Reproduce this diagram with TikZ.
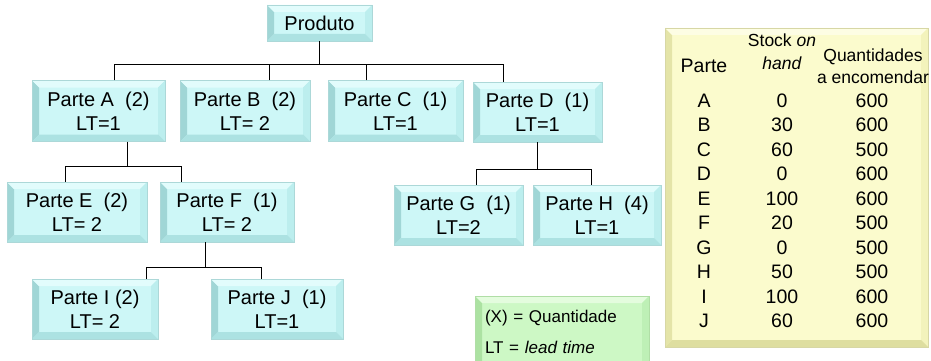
\documentclass[tikz,border=0pt]{standalone}
\usepackage{fontspec}
\setmainfont{Liberation Sans}
\usepackage{xcolor}
\definecolor{cyanface}{RGB}{205,247,247}
\definecolor{cyanleft}{RGB}{160,214,214}
\definecolor{cyantop}{RGB}{226,252,252}
\definecolor{cyanright}{RGB}{188,238,238}
\definecolor{cyanbottom}{RGB}{172,226,226}
\definecolor{cyanedge}{RGB}{172,216,216}
\definecolor{greenface}{RGB}{205,248,197}
\definecolor{greenleft}{RGB}{172,226,162}
\definecolor{greentop}{RGB}{228,252,222}
\definecolor{greenright}{RGB}{190,240,182}
\definecolor{greenbottom}{RGB}{178,230,170}
\definecolor{greenedge}{RGB}{176,222,166}
\definecolor{yellowface}{RGB}{251,251,205}
\definecolor{yellowleft}{RGB}{228,228,168}
\definecolor{yellowtop}{RGB}{253,253,228}
\definecolor{yellowright}{RGB}{243,243,188}
\definecolor{yellowbottom}{RGB}{222,222,160}
\definecolor{yellowedge}{RGB}{215,215,165}

\tikzset{
  bevel/.style={fill=#1face, draw=#1edge, line width=0.4pt,
    path picture={
      \path (path picture bounding box.south west) coordinate (pbl)
            (path picture bounding box.north west) coordinate (ptl)
            (path picture bounding box.north east) coordinate (ptr)
            (path picture bounding box.south east) coordinate (pbr);
      \fill[#1left] (pbl) -- (ptl) -- ([shift={(7pt,-7pt)}]ptl) -- ([shift={(7pt,7pt)}]pbl) -- cycle;
      \fill[#1top] (ptl) -- (ptr) -- ([shift={(-7pt,-7pt)}]ptr) -- ([shift={(7pt,-7pt)}]ptl) -- cycle;
      \fill[#1right] (ptr) -- (pbr) -- ([shift={(-7pt,7pt)}]pbr) -- ([shift={(-7pt,-7pt)}]ptr) -- cycle;
      \fill[#1bottom] (pbr) -- (pbl) -- ([shift={(7pt,7pt)}]pbl) -- ([shift={(-7pt,7pt)}]pbr) -- cycle;
    }},
  part/.style={bevel=cyan, inner sep=0pt, align=center,
    font=\fontsize{20}{24}\selectfont},
  link/.style={draw=black, line width=0.9pt},
  cell/.style={anchor=base, inner sep=0pt, font=\fontsize{19.5}{22}\selectfont},
  head/.style={anchor=base, inner sep=0pt, font=\fontsize{17.5}{20}\selectfont},
}

\begin{document}
\begin{tikzpicture}[x=1pt, y=-1pt]
    % Page frame: 931 x 361, y pointing down
    \useasboundingbox (0,0) rectangle (931,361);

    % Product structure tree
    \node[part, minimum width=105pt, minimum height=36pt] (produto) at (319.5,23) {Produto};

    \node[part, minimum width=133pt, minimum height=61pt] (partA) at (98.5,111) {Parte A~ (2)\\LT=1};
    \node[part, minimum width=130pt, minimum height=61pt] (partB) at (245,111) {Parte B~ (2)\\LT= 2};
    \node[part, minimum width=135pt, minimum height=61pt] (partC) at (395.5,111) {Parte C~ (1)\\LT=1};
    \node[part, minimum width=129pt, minimum height=60pt] (partD) at (537.5,112) {Parte D~ (1)\\LT=1};

    \node[part, minimum width=140pt, minimum height=60pt] (partE) at (77,212) {Parte E~ (2)\\LT= 2};
    \node[part, minimum width=134pt, minimum height=60pt] (partF) at (227,212) {Parte F~ (1)\\LT= 2};
    \node[part, minimum width=129pt, minimum height=60pt] (partG) at (458.5,215) {Parte G~ (1)\\LT=2};
    \node[part, minimum width=128pt, minimum height=60pt] (partH) at (597,215) {Parte H~ (4)\\LT=1};

    \node[part, minimum width=126pt, minimum height=60pt] (partI) at (95,309) {Parte I (2)\\LT= 2};
    \node[part, minimum width=132pt, minimum height=60pt] (partJ) at (277,309) {Parte J~ (1)\\LT=1};

    % Connectors
    \draw[link] (produto.south) -- ++(0,23) coordinate (bus);
    \draw[link] ([xshift=15.5pt]partA.north) |- (bus) -| ([xshift=-34.5pt]partD.north);
    \draw[link] ([xshift=24pt]partB.north) -- ([xshift=24pt]partB.north |- bus);
    \draw[link] ([xshift=-29.5pt]partC.north) -- ([xshift=-29.5pt]partC.north |- bus);

    \draw[link] ([xshift=28.5pt]partA.south) -- ++(0,25) coordinate (forkA);
    \draw[link] ([xshift=-12pt]partE.north) |- (forkA) -| ([xshift=-46pt]partF.north);

    \draw[link] ([xshift=-22pt]partF.south) -- ++(0,25) coordinate (forkF);
    \draw[link] ([xshift=51pt]partI.north) |- (forkF) -| ([xshift=-16pt]partJ.north);

    \draw[link] (partD.south) -- ++(0,27) coordinate (forkD);
    \draw[link] ([xshift=17.5pt]partG.north) |- (forkD) -| ([xshift=-6pt]partH.north);

    % Legend
    \node[bevel=green, inner ysep=0pt, inner xsep=10pt, text width=154pt, minimum height=72pt,
          align=left, font=\fontsize{17}{31}\selectfont] (legend) at (562,332)
      {(X) = Quantidade\\LT = \textit{lead time}};

    % Stock table
    \node[bevel=yellow, minimum width=263pt, minimum height=319pt, inner sep=0pt] (tbl) at (796.5,187.5) {};
    \node[cell] (hParte) at (704,72) {Parte};
    \node[head] (hStock) at (782,47) {Stock \textit{on}};
    \node[head] (hHand) at (782,70) {\textit{hand}};
    \node[head] (hQty) at (873,62) {Quantidades};
    \node[head] (hOrder) at (873,83) {a encomendar};
    \foreach \p/\s/\q [count=\r] in {A/0/600, B/30/600, C/60/500, D/0/600, E/100/600,
                                      F/20/500, G/0/500, H/50/500, I/100/600, J/60/600} {
      \node[cell] (p\r) at (704,{107+24.55*(\r-1)}) {\p};
      \node[cell] (s\r) at (782,{107+24.55*(\r-1)}) {\s};
      \node[cell] (q\r) at (872,{107+24.55*(\r-1)}) {\q};
    }
\end{tikzpicture}
\end{document}
